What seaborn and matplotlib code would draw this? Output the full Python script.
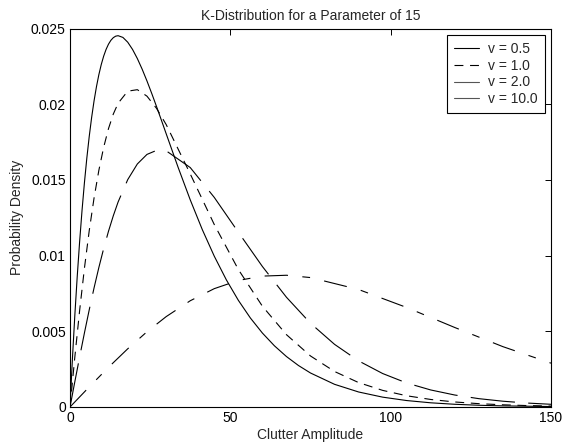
import matplotlib
matplotlib.use("Agg")
import matplotlib.pyplot as plt
import seaborn as sns
import pandas as pd

# ---- data ----
x_v05 = [0, 0.75, 1.5, 2.25, 3, 3.75, 4.5, 5.25, 6, 6.75,
         7.5, 8.25, 9, 9.75, 10.5, 11.25, 12, 12.75, 13.5, 14.25,
         15, 16.5, 18, 19.5, 21, 22.5, 24, 25.5, 27, 28.5,
         30, 33.75, 37.5, 41.25, 45, 48.75, 52.5, 56.25, 60, 63.75,
         67.5, 71.25, 75, 82.5, 90, 97.5, 105, 112.5, 120, 127.5,
         135, 150]
v05 = [0, 0.003171, 0.006032, 0.008607, 0.010916, 0.012980, 0.014816, 0.016443, 0.017875, 0.019129,
       0.020218, 0.021155, 0.021952, 0.022622, 0.023174, 0.023618, 0.023964, 0.024220, 0.024394, 0.024494,
       0.024525, 0.024411, 0.024096, 0.023619, 0.023016, 0.022313, 0.021536, 0.020704, 0.019836, 0.018945,
       0.018045, 0.015810, 0.013681, 0.011720, 0.009957, 0.008401, 0.007046, 0.005879, 0.004884, 0.004042,
       0.003333, 0.002740, 0.002246, 0.001498, 0.000992, 0.000651, 0.000426, 0.000277, 0.000179, 0.000115,
       0.000074, 0.000030]

x_main = [0, 1.5, 3, 4.5, 6, 7.5, 9, 10.5, 12, 13.5, 15, 18, 21, 24, 27, 30,
          37.5, 45, 52.5, 60, 67.5, 75, 82.5, 90, 97.5, 105, 112.5, 120,
          127.5, 135, 142.5, 150]
v1 = [0, 0.003285, 0.006368, 0.009168, 0.011650, 0.013803, 0.015634, 0.017155,
      0.018385, 0.019346, 0.020063, 0.020861, 0.020959, 0.020531, 0.019721,
      0.018653, 0.015394, 0.012048, 0.009081, 0.006656, 0.004778, 0.003371,
      0.002345, 0.001613, 0.001098, 0.000742, 0.000497, 0.000332, 0.000220,
      0.000145, 0.000095, 0.000062]
v2 = [0, 0.001663, 0.003301, 0.004893, 0.006420, 0.007865, 0.009216, 0.010466,
      0.011605, 0.012629, 0.013540, 0.015017, 0.016052, 0.016683, 0.016951,
      0.016920, 0.015815, 0.013841, 0.011544, 0.009280, 0.007249, 0.005530,
      0.004138, 0.003046, 0.002211, 0.001585, 0.001125, 0.000791, 0.000551,
      0.000382, 0.000262, 0.000179]

x_v10 = [0, 6, 12, 18, 24, 30, 37.5, 45, 52.5, 60, 67.5, 75, 90, 105, 120, 135, 150]
v10 = [0, 0.001328, 0.002620, 0.003844, 0.004969, 0.005971, 0.007018, 0.007818,
       0.008359, 0.008646, 0.008702, 0.008549, 0.007760, 0.006572, 0.005250,
       0.003986, 0.002896]

labels = ["v = 0.5", "v = 1.0", "v = 2.0", "v = 10.0"]
xticks = [0, 50, 100, 150]
yticks = [0, 0.005, 0.01, 0.015, 0.02, 0.025]
ytick_labels = ["0", "0.005", "0.01", "0.015", "0.02", "0.025"]

sns.set_style("white")
plt.rcParams["font.family"] = ["Liberation Sans", "DejaVu Sans"]
plt.rcParams["font.size"] = 10

fig = plt.figure(figsize=(5.63, 4.47), dpi=100)
ax = fig.add_axes([70 / 563, 1 - 407 / 447, 481 / 563, 378.5 / 447])

lw = 0.8
series = [
    (x_v05, v05, labels[0], "-"),
    (x_main, v1, labels[1], (0, (8, 6))),
    (x_main, v2, labels[2], (0, (40, 12))),
    (x_v10, v10, labels[3], (0, (21, 13, 7, 13))),
]
for xs, ys, lab, ls in series:
    df = pd.DataFrame({"x": xs, "y": ys})
    sns.lineplot(data=df, x="x", y="y", ax=ax, color="black", linewidth=lw,
                 linestyle=ls, label=lab, sort=False, estimator=None)

ax.set_xlim(0, 150)
ax.set_ylim(0, 0.025)
ax.set_xticks(xticks)
ax.set_xticklabels([str(t) for t in xticks])
ax.set_yticks(yticks)
ax.set_yticklabels(ytick_labels)
ax.tick_params(direction="in", top=True, right=True, length=4, width=0.7,
               colors="black", labelsize=10, pad=3)
for s in ax.spines.values():
    s.set_color("black")
    s.set_linewidth(0.8)

ax.set_title("K-Distribution for a Parameter of 15", fontsize=10, pad=6)
ax.set_xlabel("Clutter Amplitude", fontsize=10, labelpad=2)
ax.set_ylabel("Probability Density", fontsize=10, labelpad=5)

leg = ax.legend(loc="upper right", bbox_to_anchor=(0.9875, 0.983),
                borderaxespad=0, frameon=True, fancybox=False,
                edgecolor="black", framealpha=1, handlelength=1.8,
                handletextpad=0.65, labelspacing=0.2, borderpad=0.5,
                fontsize=10)
leg.get_frame().set_linewidth(0.8)
handles = leg.get_lines()
for h in handles[2:]:
    h.set_linestyle("-")
    h.set_color("#555555")

fig.savefig("out.png", dpi=100)
